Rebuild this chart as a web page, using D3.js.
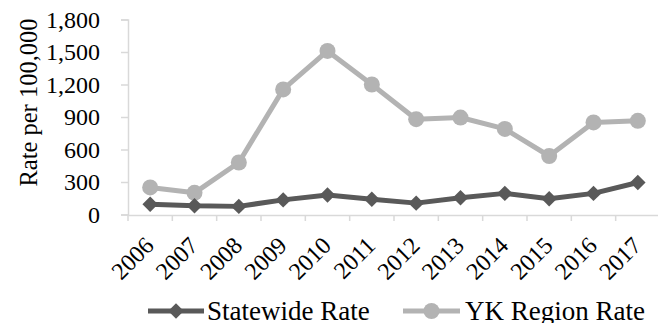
<!DOCTYPE html>
<html>
<head>
<meta charset="utf-8">
<script src="https://cdn.jsdelivr.net/npm/d3@7"></script>
<style>
  html, body { margin: 0; padding: 0; background: #fff; }
  svg { display: block; }
</style>
</head>
<body>
<script>
const years = ["2006","2007","2008","2009","2010","2011","2012","2013","2014","2015","2016","2017"];
const statewide = [95, 80, 75, 135, 180, 140, 105, 155, 195, 145, 195, 295];
const ykRegion = [250, 200, 480, 1155, 1510, 1200, 880, 895, 790, 540, 850, 865];
const yTicks = [0, 300, 600, 900, 1200, 1500, 1800];
const seriesNames = ["Statewide Rate", "YK Region Rate"];
const yTitle = "Rate per 100,000";

const FONT = "Liberation Serif";
const W = 658, H = 323;
const svg = d3.select("body").append("svg").attr("width", W).attr("height", H)
  .attr("font-family", FONT);

const x = d3.scaleBand().domain(years).range([128, 660]);
const y = d3.scaleLinear().domain([0, 1800]).range([214.5, 19.5]);

const axisColor = "#d9d9d9";
const darkC = "#595959", lightC = "#b3b3b3";

// Y axis
const yAxis = svg.append("g").attr("transform", "translate(128,0)")
  .call(d3.axisLeft(y).tickValues(yTicks).tickSize(7).tickPadding(21)
    .tickFormat(d3.format(",")));
yAxis.attr("font-family", FONT).attr("font-size", 24);
yAxis.select(".domain").attr("stroke", axisColor).attr("stroke-width", 1.5);
yAxis.selectAll(".tick line").attr("stroke", axisColor).attr("stroke-width", 1.5);
yAxis.selectAll(".tick text").attr("font-family", FONT).attr("font-size", 24)
  .attr("fill", "#000").attr("dy", "0.33em");

// X axis
const xAxis = svg.append("g").attr("transform", "translate(0,215)")
  .call(d3.axisBottom(x).tickSize(0).tickFormat(""));
xAxis.select(".domain").attr("stroke", axisColor).attr("stroke-width", 1.5);
xAxis.selectAll(".tick").remove();
const bounds = years.map(d => x(d));
xAxis.selectAll("line.bt").data(bounds).enter().append("line")
  .attr("class", "bt")
  .attr("x1", d => d).attr("x2", d => d).attr("y1", 0).attr("y2", 6)
  .attr("stroke", axisColor).attr("stroke-width", 1.5);
// x labels
svg.append("g").selectAll("text").data(years).enter().append("text")
  .attr("transform", d => `translate(${x(d) + x.bandwidth() / 2 + 5},247) rotate(-45)`)
  .attr("text-anchor", "end")
  .attr("font-family", FONT).attr("font-size", 24)
  .text(d => d);

// Y title
svg.append("text")
  .attr("transform", "translate(37,102.5) rotate(-90)")
  .attr("text-anchor", "middle")
  .attr("font-family", FONT).attr("font-size", 24.5)
  .text(yTitle);

const cx = d => x(d) + x.bandwidth() / 2;
const line = d3.line().x(d => cx(d[0])).y(d => y(d[1]));

// YK series
const ykData = years.map((d, i) => [d, ykRegion[i]]);
svg.append("path").datum(ykData).attr("d", line).attr("fill", "none")
  .attr("stroke", lightC).attr("stroke-width", 5).attr("stroke-linejoin", "round");
svg.append("g").selectAll("circle").data(ykData).enter().append("circle")
  .attr("cx", d => cx(d[0])).attr("cy", d => y(d[1])).attr("r", 8).attr("fill", lightC);

// Statewide series
const swData = years.map((d, i) => [d, statewide[i]]);
svg.append("path").datum(swData).attr("d", line).attr("fill", "none")
  .attr("stroke", darkC).attr("stroke-width", 5).attr("stroke-linejoin", "round");
svg.append("g").selectAll("path").data(swData).enter().append("path")
  .attr("d", d3.symbol().type(d3.symbolSquare).size(120))
  .attr("transform", d => `translate(${cx(d[0])},${y(d[1])}) rotate(45)`)
  .attr("fill", darkC);

// Legend
const lg = svg.append("g");
const legendItems = [
  { name: seriesNames[0], color: darkC, x0: 148, x1: 204, tx: 207, shape: "diamond" },
  { name: seriesNames[1], color: lightC, x0: 403, x1: 460, tx: 465, shape: "circle" }
];
legendItems.forEach(it => {
  lg.append("line").attr("x1", it.x0).attr("x2", it.x1).attr("y1", 311).attr("y2", 311)
    .attr("stroke", it.color).attr("stroke-width", 5);
  const mx = (it.x0 + it.x1) / 2;
  if (it.shape === "circle") {
    lg.append("circle").attr("cx", mx).attr("cy", 311).attr("r", 8).attr("fill", it.color);
  } else {
    lg.append("path").attr("d", d3.symbol().type(d3.symbolSquare).size(120))
      .attr("transform", `translate(${mx},311) rotate(45)`).attr("fill", it.color);
  }
  lg.append("text").attr("x", it.tx).attr("y", 319.5)
    .attr("font-family", FONT).attr("font-size", 27).text(it.name);
});
</script>
</body>
</html>
